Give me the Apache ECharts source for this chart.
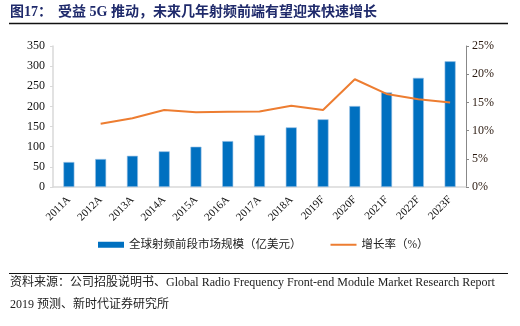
<!DOCTYPE html>
<html><head><meta charset="utf-8">
<script src="https://cdn.jsdelivr.net/npm/echarts@6/dist/echarts.min.js"></script>
<style>html,body{margin:0;padding:0;background:#fff}#c{width:520px;height:326px}</style>
</head><body><div id="c"></div>
<script>
const categories = ['2011A','2012A','2013A','2014A','2015A','2016A','2017A','2018A','2019F','2020F','2021F','2022F','2023F'];
const marketSize = [62, 69.5, 77.5, 88.5, 100, 114, 129, 148, 168, 201, 235, 271, 312];
const growthRate = [null, 11.2, 12.2, 13.65, 13.25, 13.35, 13.4, 14.4, 13.65, 19.1, 16.5, 15.55, 15.0];
const leftTicks = {min: 0, max: 350, interval: 50};
const rightTicks = {min: 0, max: 25, interval: 5};
const titleText = '图17：';
const titleMain = '受益 5G 推动，未来几年射频前端有望迎来快速增长';
const seriesNames = ['全球射频前段市场规模（亿美元）', '增长率（%）'];
const source1 = '资料来源：公司招股说明书、Global Radio Frequency Front-end Module Market Research Report';
const source2 = '2019 预测、新时代证券研究所';

const serif = '"Liberation Serif","Times New Roman","Noto Sans CJK SC",serif';
const cjk = '"Liberation Serif","Noto Sans CJK SC",sans-serif';
const chart = echarts.init(document.getElementById('c'));
chart.setOption({
  animation: false,
  grid: {left: 53, right: 54, top: 46, bottom: 139},
  legend: {
    left: 98, top: 239, padding: 0, itemGap: 29, itemWidth: 26, itemHeight: 6,
    textStyle: {fontFamily: cjk, fontSize: 11.5, color: '#222', padding: [0, 0, 0, 0]},
    data: [
      {name: seriesNames[0], icon: 'rect', itemStyle: {borderWidth: 0}},
      {name: seriesNames[1], icon: 'path://M0,0h26v2h-26z', itemStyle: {color: '#ED7D31'}}
    ]
  },
  xAxis: {
    type: 'category', data: categories,
    axisLine: {lineStyle: {color: '#d9d9d9', width: 1.5}},
    axisTick: {show: false},
    axisLabel: {rotate: 45, fontFamily: serif, fontSize: 11, color: '#111', margin: 11, interval: 0}
  },
  yAxis: [{
    type: 'value', min: leftTicks.min, max: leftTicks.max, interval: leftTicks.interval,
    axisLine: {show: true, lineStyle: {color: '#d9d9d9', width: 1.5}},
    axisTick: {show: true, length: 3, lineStyle: {color: '#d9d9d9'}},
    splitLine: {show: false},
    axisLabel: {fontFamily: serif, fontSize: 12, color: '#111', margin: 8}
  }, {
    type: 'value', min: rightTicks.min, max: rightTicks.max, interval: rightTicks.interval,
    position: 'right',
    axisLine: {show: true, lineStyle: {color: '#888', width: 1}},
    axisTick: {show: true, length: 3, lineStyle: {color: '#888'}},
    splitLine: {show: false},
    axisLabel: {fontFamily: serif, fontSize: 12, color: '#2b1a10', margin: 6, formatter: '{value}%'}
  }],
  series: [{
    name: seriesNames[0], type: 'bar', data: marketSize, barWidth: 11,
    itemStyle: {color: '#0070C0', borderColor: '#9cc3e6', borderWidth: 0.6}
  }, {
    name: seriesNames[1], type: 'line', yAxisIndex: 1, data: growthRate,
    symbol: 'none', lineStyle: {color: '#ED7D31', width: 2}, itemStyle: {color: '#ED7D31'}
  }],
  graphic: [
    {type: 'text', left: 10, top: 5, style: {text: titleText, font: 'bold 14px "Liberation Serif","Noto Sans CJK SC",serif', fill: '#1f2a6b'}},
    {type: 'text', left: 58, top: 5, style: {text: titleMain, font: 'bold 14px "Liberation Serif","Noto Sans CJK SC",serif', fill: '#1f2a6b'}},
    {type: 'line', shape: {x1: 9, y1: 23.5, x2: 508, y2: 23.5}, style: {stroke: '#111', lineWidth: 1.5}},
    {type: 'line', shape: {x1: 9, y1: 273.5, x2: 508, y2: 273.5}, style: {stroke: '#111', lineWidth: 1}},
    {type: 'text', left: 10, top: 277, style: {text: source1, font: '12px "Liberation Serif","Noto Sans CJK SC",serif', fill: '#222'}},
    {type: 'text', left: 10, top: 299, style: {text: source2, font: '12px "Liberation Serif","Noto Sans CJK SC",serif', fill: '#222'}}
  ]
});
</script></body></html>
